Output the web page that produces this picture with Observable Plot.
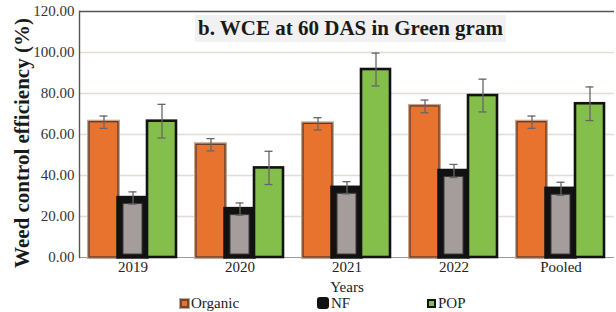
<!DOCTYPE html>
<html><head><meta charset="utf-8">
<script src="https://cdn.jsdelivr.net/npm/d3@7"></script>
<script src="https://cdn.jsdelivr.net/npm/@observablehq/plot@0.6"></script>
<style>
body{margin:0;background:#fff;}
#wrap{position:relative;width:616px;height:312px;font-family:"Liberation Serif","DejaVu Serif",serif;}
#title{position:absolute;left:195px;top:15px;padding:0 3px;background:#f1f1f1;font-weight:bold;font-size:21px;color:#1a1a1a;white-space:nowrap;line-height:27px;}
#ylab{position:absolute;left:22px;top:143px;transform:translate(-50%,-50%) rotate(-90deg);font-weight:bold;font-size:21px;color:#1a1a1a;white-space:nowrap;}
.leg{position:absolute;top:295px;height:16px;line-height:16px;font-size:15px;color:#222;display:flex;align-items:center;white-space:nowrap;}
.sw{display:inline-block;width:9px;height:9px;margin-right:2px;box-sizing:border-box;}
</style></head>
<body><div id="wrap"><div id="chart"></div>
<div id="title">b. WCE at 60 DAS in Green gram</div>
<div id="ylab">Weed control efficiency (%)</div>
<div class="leg" style="left:180px"><span class="sw" style="background:#e8732e;border:2px solid #6b4a36;outline:1px solid #c9a58c"></span>Organic</div>
<div class="leg" style="left:317px"><span class="sw" style="width:12px;height:12px;background:#111;border-radius:3px;position:relative"></span>NF</div>
<div class="leg" style="left:427px"><span class="sw" style="background:#84bf4b;border:2px solid #111"></span>POP</div>
</div>
<script>
const years = ["2019", "2020", "2021", "2022", "Pooled"];
const series = ["Organic", "NF", "POP"];
const organic = [66.0, 55.0, 65.2, 73.7, 66.0];
const organicErr = [3.0, 3.0, 3.0, 3.1, 3.0];
const nf = [29.0, 23.6, 34.0, 42.2, 33.5];
const nfErr = [3.0, 3.0, 3.0, 3.2, 3.2];
const pop = [66.5, 43.7, 91.7, 79.0, 75.0];
const popErr = [8.2, 8.1, 8.0, 8.0, 8.2];
const yTicks = [0, 20, 40, 60, 80, 100, 120];
const gridTicks = [20, 40, 60, 80, 100];

const vals = {Organic: organic, NF: nf, POP: pop};
const errs = {Organic: organicErr, NF: nfErr, POP: popErr};
const rows = years.flatMap((yr, i) => series.map(s => ({year: yr, series: s, value: vals[s][i], err: errs[s][i]})));
const only = s => rows.filter(d => d.series === s);

const chart = Plot.plot({
  width: 616, height: 295,
  marginLeft: 77, marginRight: 1, marginTop: 11, marginBottom: 38,
  style: {fontFamily: "'Liberation Serif', 'DejaVu Serif', serif", fontSize: "15px", color: "#333", background: "transparent"},
  facet: {data: rows, x: "year"},
  fx: {domain: years, padding: 0, label: null},
  x: {domain: series, paddingInner: 0, paddingOuter: 0.335, axis: null},
  y: {domain: [0, 120], label: null},
  marks: [
    Plot.ruleY(gridTicks, {stroke: "#e2dbd7", strokeWidth: 1.6}),
    Plot.ruleY([120], {stroke: "#555", strokeWidth: 1.4}),
    Plot.ruleY([0], {stroke: "#9a9a9a", strokeWidth: 1.2}),
    Plot.frame({anchor: "left", facetAnchor: "left", stroke: "#555", strokeWidth: 1.4}),
    Plot.axisY({ticks: yTicks, tickFormat: d3.format(".2f"), tickSize: 0, tickPadding: 5, label: null, fill: "#333"}),
    Plot.axisFx({anchor: "bottom", tickSize: 0, tickPadding: 4, label: "Years", labelAnchor: "center", labelOffset: 34, fill: "#222"}),
    Plot.barY(only("Organic"), {fx: "year", x: "series", y: "value", fill: "#e8732e", stroke: "#caa58b", strokeWidth: 4}),
    Plot.barY(only("Organic"), {fx: "year", x: "series", y: "value", fill: "#e8732e", stroke: "#5b3b2b", strokeWidth: 1.3}),
    Plot.barY(only("NF"), {fx: "year", x: "series", y: "value", fill: "#121212", stroke: "#121212", strokeWidth: 3.5}),
    Plot.barY(only("NF"), {fx: "year", x: "series", y: "value", fill: "#a49d9c", stroke: "#3a3a3a", strokeWidth: 1, insetLeft: 5, insetRight: 5, insetTop: 6, insetBottom: 3}),
    Plot.barY(only("POP"), {fx: "year", x: "series", y: "value", fill: "#84bf4b", stroke: "#121212", strokeWidth: 2.6}),
    Plot.ruleX(rows, {fx: "year", x: "series", y1: d => d.value - d.err, y2: d => d.value + d.err, stroke: "#666", strokeWidth: 1.3}),
    Plot.tickY(rows, {fx: "year", x: "series", y: d => d.value - d.err, stroke: "#666", strokeWidth: 1.3, insetLeft: 10.5, insetRight: 10.5}),
    Plot.tickY(rows, {fx: "year", x: "series", y: d => d.value + d.err, stroke: "#666", strokeWidth: 1.3, insetLeft: 10.5, insetRight: 10.5})
  ]
});
document.getElementById("chart").appendChild(chart);
</script>
</body></html>
